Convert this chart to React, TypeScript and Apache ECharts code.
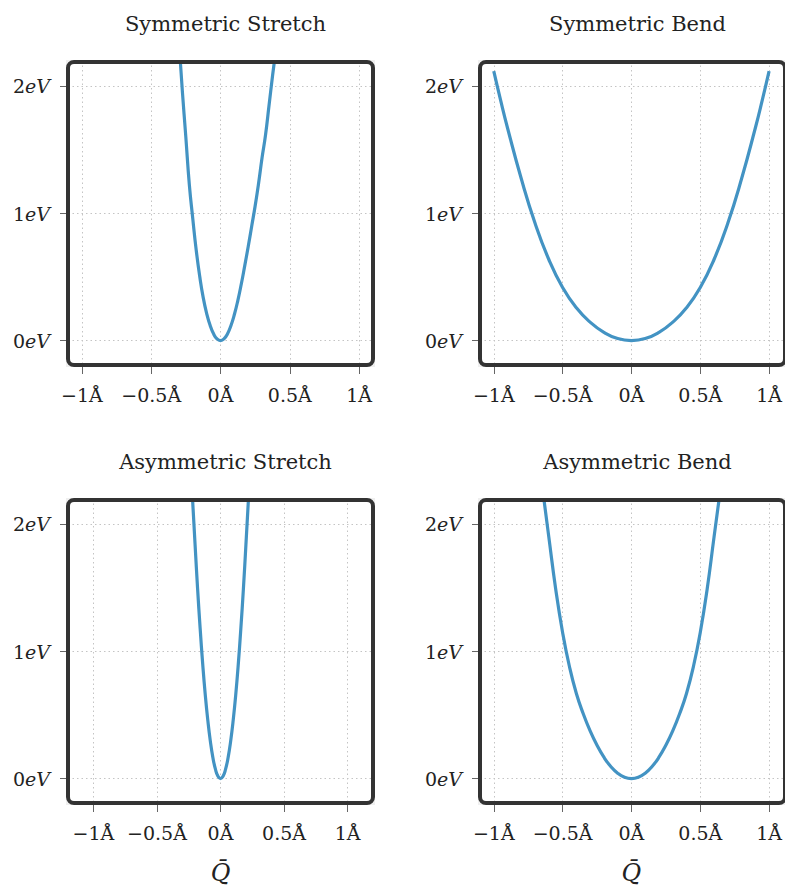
import React, { useEffect, useRef } from 'react';
import * as echarts from 'echarts';

// ---- data ----
const titles = ['Symmetric Stretch', 'Symmetric Bend', 'Asymmetric Stretch', 'Asymmetric Bend'];
const xTicks = [-1, -0.5, 0, 0.5, 1];
const yTicks = [0, 1, 2];
const xMins = [-1.1, -1.1, -1.2, -1.1];
const xMaxs = [1.1, 1.1, 1.2, 1.1];
const yMin = -0.2;
const yMax = 2.2;

// Symmetric Stretch
const stretchQ = [-0.29, -0.275, -0.25, -0.225, -0.2, -0.175, -0.15, -0.125, -0.1, -0.075, -0.05, -0.025, 0,
  0.025, 0.05, 0.075, 0.1, 0.125, 0.15, 0.175, 0.2, 0.225, 0.25, 0.275, 0.3, 0.325, 0.35, 0.375, 0.389];
const stretchE = [2.2, 1.96, 1.6, 1.23, 0.96, 0.71, 0.506, 0.34, 0.215, 0.12, 0.053, 0.013, 0,
  0.013, 0.052, 0.117, 0.205, 0.315, 0.445, 0.59, 0.74, 0.9, 1.06, 1.24, 1.44, 1.62, 1.85, 2.08, 2.2];
// Symmetric Bend
const bendQ = [-1.0, -0.95, -0.9, -0.8, -0.7, -0.6, -0.5, -0.4, -0.3, -0.2, -0.1, 0,
  0.1, 0.2, 0.3, 0.4, 0.5, 0.6, 0.7, 0.8, 0.9, 0.95, 1.0];
const bendE = [2.12, 1.89, 1.673, 1.273, 0.923, 0.638, 0.418, 0.258, 0.145, 0.065, 0.016, 0,
  0.016, 0.065, 0.145, 0.258, 0.418, 0.638, 0.923, 1.273, 1.673, 1.89, 2.12];
// Asymmetric Stretch
const aStretchQ = [-0.22, -0.2, -0.18, -0.16, -0.14, -0.12, -0.1, -0.08, -0.06, -0.04, -0.02, 0,
  0.02, 0.04, 0.06, 0.08, 0.1, 0.12, 0.14, 0.16, 0.18, 0.2, 0.22];
const aStretchE = [2.2, 1.84, 1.49, 1.18, 0.9, 0.66, 0.46, 0.295, 0.166, 0.074, 0.018, 0,
  0.018, 0.074, 0.166, 0.295, 0.46, 0.66, 0.9, 1.18, 1.49, 1.84, 2.2];
// Asymmetric Bend
const aBendQ = [-0.636, -0.6, -0.55, -0.5, -0.45, -0.4, -0.35, -0.3, -0.25, -0.2, -0.15, -0.1, -0.05, 0,
  0.05, 0.1, 0.15, 0.2, 0.25, 0.3, 0.35, 0.4, 0.45, 0.5, 0.55, 0.6, 0.637];
const aBendE = [2.2, 1.9, 1.49, 1.15, 0.88, 0.67, 0.51, 0.375, 0.262, 0.168, 0.095, 0.042, 0.0105, 0,
  0.0105, 0.042, 0.095, 0.168, 0.262, 0.375, 0.51, 0.67, 0.88, 1.15, 1.49, 1.9, 2.2];

const curves = [
  { q: stretchQ, e: stretchE },
  { q: bendQ, e: bendE },
  { q: aStretchQ, e: aStretchE },
  { q: aBendQ, e: aBendE },
];

// ---- layout ----
const GRIDS = [
  { left: 68, top: 61 },
  { left: 480, top: 61 },
  { left: 68, top: 499 },
  { left: 480, top: 499 },
];
const W = 305;
const H = 305;
const FONT = 'DejaVu Serif';
const TEXT = '#222222';
const LINE = '#4393c3';

const fmtX = (v: number) => {
  const a = Math.abs(v);
  return (v < 0 ? '\u2212' : '') + a + 'Å';
};

export default function App() {
  const ref = useRef<HTMLDivElement>(null);
  useEffect(() => {
    if (!ref.current) return;
    const chart = echarts.init(ref.current, null, { renderer: 'svg' });
    const graphic: any[] = [];
    GRIDS.forEach((g) => {
      graphic.push({
        type: 'rect', z: -3, silent: true,
        shape: { x: g.left - 2, y: g.top - 1, width: W + 4, height: H + 2 },
        style: { fill: '#efefef' },
      });
      graphic.push({
        type: 'rect', z: -2, silent: true,
        shape: { x: g.left, y: g.top + 1, width: W, height: H - 2, r: 6 },
        style: { fill: '#ffffff' },
      });
      graphic.push({
        type: 'rect', z: 50, silent: true,
        shape: { x: g.left, y: g.top + 1, width: W, height: H - 2, r: 6 },
        style: { fill: 'none', stroke: '#333333', lineWidth: 4 },
      });
    });

    const option: any = {
      animation: false,
      backgroundColor: '#ffffff',
      title: titles.map((t, i) => ({
        text: t,
        left: GRIDS[i].left + W / 2,
        top: GRIDS[i].top - 53,
        textAlign: 'center',
        textStyle: { fontFamily: FONT, fontSize: 21, fontWeight: 'normal', color: TEXT },
      })),
      grid: GRIDS.map((g) => ({ left: g.left, top: g.top, width: W, height: H, show: false })),
      xAxis: GRIDS.map((g, i) => ({
        type: 'value',
        gridIndex: i,
        min: xMins[i],
        max: xMaxs[i],
        position: 'bottom',
        axisLine: { show: false, onZero: false },
        axisTick: { show: true, customValues: xTicks, length: 8, lineStyle: { color: '#666666', width: 1 } },
        axisLabel: { customValues: xTicks, formatter: fmtX, fontFamily: FONT, fontSize: 19, color: TEXT, margin: 19 },
        splitLine: { show: true, lineStyle: { color: '#c4c4c4', type: [1.5, 3], width: 1 } },
        name: i >= 2 ? 'Q\u0304' : '',
        nameLocation: 'middle',
        nameGap: 57,
        nameTextStyle: { fontFamily: FONT, fontStyle: 'italic', fontSize: 24, color: TEXT },
      })),
      yAxis: GRIDS.map((g, i) => ({
        type: 'value',
        gridIndex: i,
        min: yMin,
        max: yMax,
        position: 'left',
        axisLine: { show: false, onZero: false },
        axisTick: { show: true, customValues: yTicks, length: 8, lineStyle: { color: '#666666', width: 1 } },
        axisLabel: {
          customValues: yTicks,
          formatter: (v: number) => `{n|${v}}{i|eV}`,
          margin: 18,
          rich: {
            n: { fontFamily: FONT, fontSize: 19, color: TEXT },
            i: { fontFamily: FONT, fontSize: 19, fontStyle: 'italic', color: TEXT },
          },
        },
        splitLine: { show: true, lineStyle: { color: '#c4c4c4', type: [1.5, 3], width: 1 } },
      })),
      series: curves.map((c, i) => ({
        type: 'line',
        xAxisIndex: i,
        yAxisIndex: i,
        data: c.q.map((q, j) => [q, c.e[j]]),
        smooth: 0.5,
        showSymbol: false,
        clip: true,
        lineStyle: { color: LINE, width: 3.2 },
        z: 5,
      })),
      graphic,
    };
    chart.setOption(option);
    return () => chart.dispose();
  }, []);
  return (
    <div
      ref={ref}
      style={{ position: 'absolute', left: 0, top: 0, width: 785, height: 886, background: '#fff' }}
    />
  );
}
